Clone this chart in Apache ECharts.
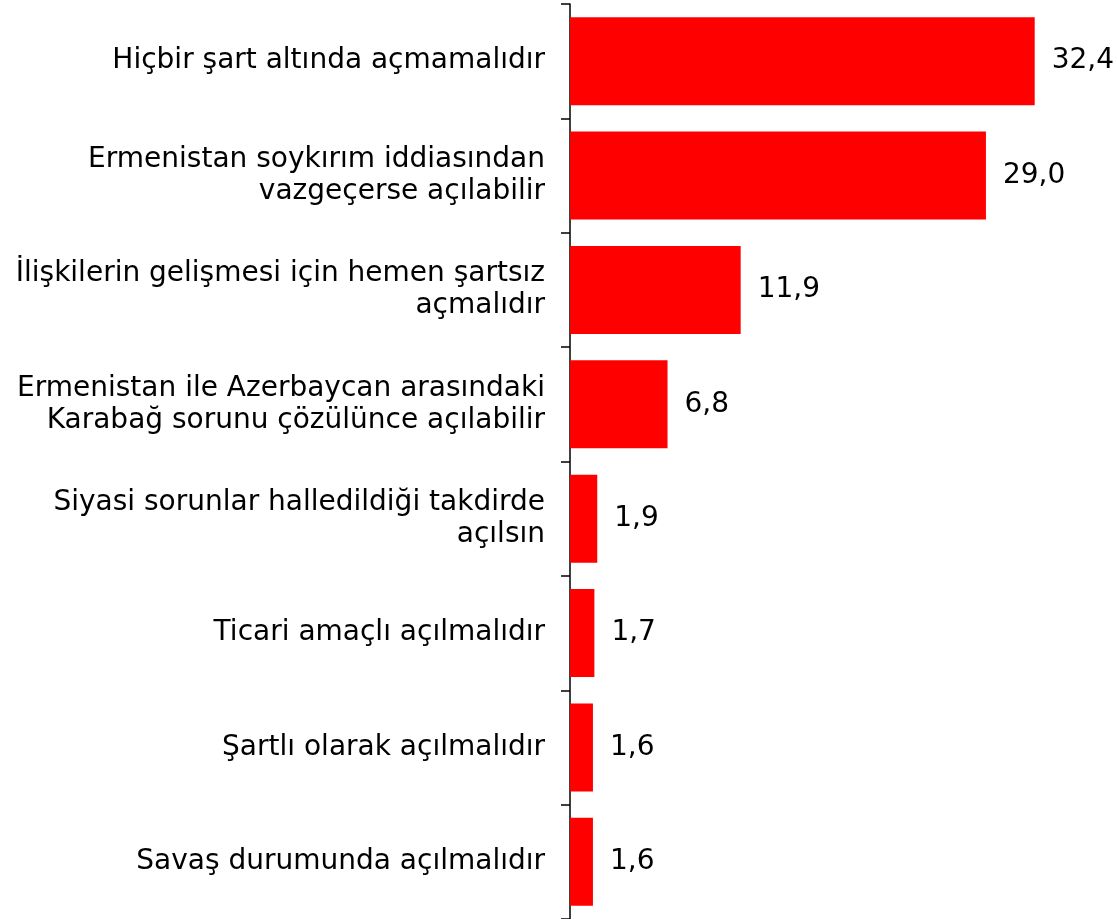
<!DOCTYPE html>
<html>
<head>
<meta charset="utf-8">
<script src="https://cdn.jsdelivr.net/npm/echarts@6/dist/echarts.min.js"></script>
<style>
  html, body { margin: 0; padding: 0; background: #fff; }
  #chart { width: 1117px; height: 919px; }
</style>
</head>
<body>
<div id="chart"></div>
<script>
const categories = [
  'Hiçbir şart altında açmamalıdır',
  'Ermenistan soykırım iddiasından\nvazgeçerse açılabilir',
  'İlişkilerin gelişmesi için hemen şartsız\naçmalıdır',
  'Ermenistan ile Azerbaycan arasındaki\nKarabağ sorunu çözülünce açılabilir',
  'Siyasi sorunlar halledildiği takdirde\naçılsın',
  'Ticari amaçlı açılmalıdır',
  'Şartlı olarak açılmalıdır',
  'Savaş durumunda açılmalıdır'
]
const values = [32.4, 29.0, 11.9, 6.8, 1.9, 1.7, 1.6, 1.6]

const chart = echarts.init(document.getElementById('chart'))
const option = {
  animation: false,
  grid: {
    left: 570,
    right: 45,
    top: 4,
    bottom: 0,
  },
  xAxis: {
    type: 'value',
    min: 0,
    max: 35,
    show: false,
  },
  yAxis: {
    type: 'category',
    inverse: true,
    data: categories,
    axisLine: { show: true, lineStyle: { color: '#000', width: 1.5 } },
    axisTick: { show: true, length: 9, lineStyle: { color: '#000', width: 1.5 } },
    axisLabel: {
      margin: 25,
      color: '#000',
      fontFamily: 'DejaVu Sans',
      fontSize: 28,
      lineHeight: 32,
      align: 'right',
      padding: [6, 0, 0, 0],
    },
  },
  series: [
    {
      type: 'bar',
      data: values,
      barCategoryGap: '23%',
      itemStyle: { color: '#ff0000' },
      label: {
        show: true,
        position: 'right',
        distance: 17,
        color: '#000',
        fontFamily: 'DejaVu Sans',
        fontSize: 28,
        padding: [6, 0, 0, 0],
        formatter: (p) => p.value.toFixed(1).replace('.', ','),
      },
    },
  ],
}
chart.setOption(option)
</script>
</body>
</html>
